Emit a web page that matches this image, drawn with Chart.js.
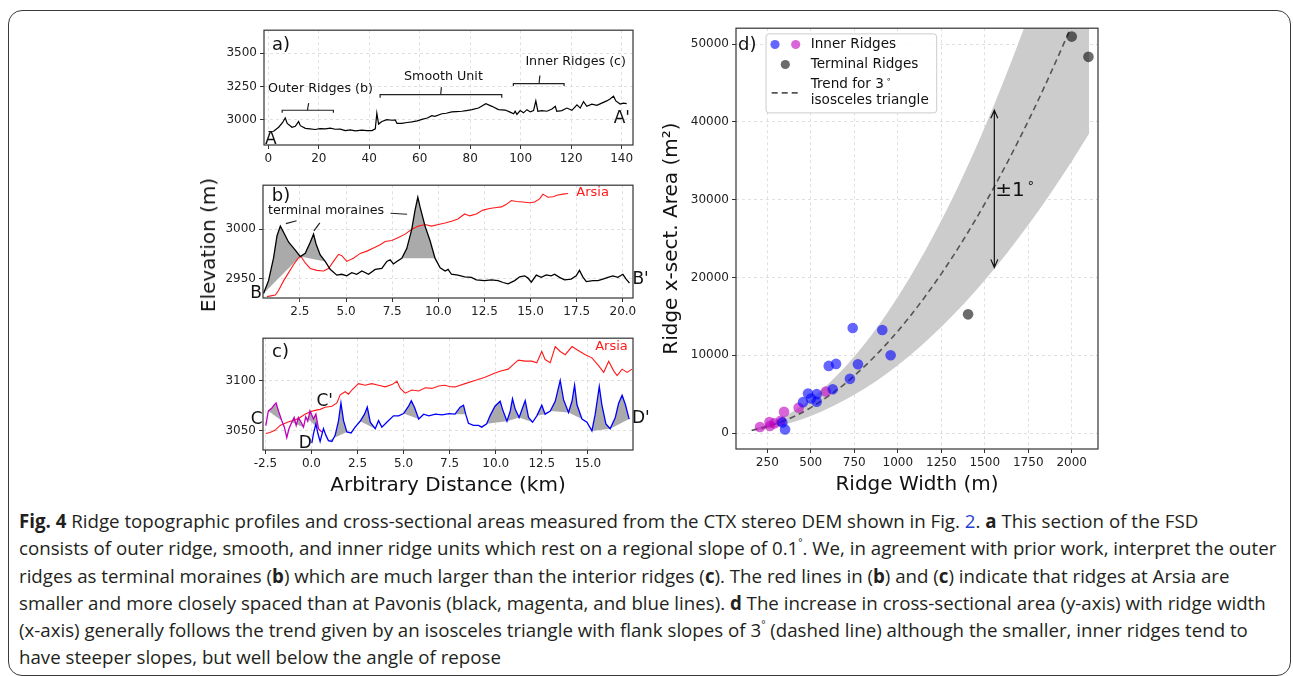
<!DOCTYPE html>
<html lang="en">
<head>
<meta charset="UTF-8">
<script src="https://cdn.jsdelivr.net/npm/chart.js"></script>
<title>Ridge profiles and cross-sectional areas</title>
<style>
  body { margin: 0; background: #fff; width: 1293px; height: 676px; overflow: hidden; position: relative; }
  .frame { position: absolute; left: 8px; top: 10px; width: 1283px; height: 666px; box-sizing: border-box;
           border: 1.5px solid #3a3a3a; border-radius: 14px; }
  canvas { position: absolute; }
  .ytitle { position: absolute; left: 208px; top: 245px; transform: translate(-50%, -50%) rotate(-90deg);
            font: 20px 'DejaVu Sans', sans-serif; color: #111; white-space: nowrap; }
  .caption { position: absolute; left: 19px; top: 507px; font-family: 'Open Sans', sans-serif; font-size: 18.7px;
             line-height: 27.3px; color: #231f20; white-space: nowrap; }
  .caption b { font-weight: 700; }
  .caption a { color: #1f3fd0; text-decoration: none; }
  .caption sup { font-size: 10px; vertical-align: 9px; line-height: 0; }
</style>
</head>
<body>
<div class="frame"></div>
<canvas id="chartA" width="441" height="150" style="left:214px;top:20px"></canvas>
<canvas id="chartB" width="442" height="150" style="left:213px;top:175px"></canvas>
<canvas id="chartC" width="442" height="172" style="left:213px;top:328px"></canvas>
<canvas id="chartD" width="460" height="482" style="left:650px;top:18px"></canvas>
<div class="ytitle">Elevation (m)</div>
<div class="caption">
  <div><b>Fig. 4</b> Ridge topographic profiles and cross-sectional areas measured from the CTX stereo DEM shown in Fig. <a>2</a>. <b>a</b> This section of the FSD</div>
  <div>consists of outer ridge, smooth, and inner ridge units which rest on a regional slope of 0.1<sup>°</sup>. We, in agreement with prior work, interpret the outer</div>
  <div>ridges as terminal moraines (<b>b</b>) which are much larger than the interior ridges (<b>c</b>). The red lines in (<b>b</b>) and (<b>c</b>) indicate that ridges at Arsia are</div>
  <div>smaller and more closely spaced than at Pavonis (black, magenta, and blue lines). <b>d</b> The increase in cross-sectional area (y-axis) with ridge width</div>
  <div>(x-axis) generally follows the trend given by an isosceles triangle with flank slopes of 3<sup>°</sup> (dashed line) although the smaller, inner ridges tend to</div>
  <div>have steeper slopes, but well below the angle of repose</div>
</div>
<script>
// ---- a) full profile A-A'
const aDist = [0.1, 2.1, 4.1, 5.7, 6.7, 7.5, 9.4, 10.7, 12.0, 12.7, 14.7, 16.5, 18.6, 20.5, 22.6,
  24.5, 26.6, 28.5, 30.5, 32.5, 34.5, 37.1, 39.0, 41.1, 42.4, 43.0, 43.7, 45.0, 47.0, 49.0,
  50.3, 51.0, 52.9, 55.0, 56.9, 59.0, 60.9, 63.0, 64.8, 66.0, 68.8, 70.5, 72.7, 74.5, 76.7,
  78.5, 80.7, 83.3, 86.2, 88.6, 91.2, 93.9, 95.8, 97.2, 97.8, 98.5, 99.8, 101.1, 102.5, 103.8,
  105.1, 106.0, 106.8, 108.4, 110.4, 112.4, 113.7, 114.3, 116.3, 118.3, 120.3, 122.3, 123.6, 124.9, 126.2,
  128.2, 130.2, 132.1, 134.1, 135.4, 136.8, 137.7, 139.4, 140.7, 142.0];
const aElev = [2910, 2912, 2942, 2978, 3012, 2971, 2942, 2949, 2985, 2954, 2934, 2930, 2925, 2932, 2930,
  2936, 2927, 2928, 2917, 2922, 2915, 2920, 2916, 2917, 2930, 3048, 2966, 2985, 3000, 2995,
  2997, 2971, 2971, 2978, 2983, 2990, 3002, 3012, 3029, 3024, 3044, 3048, 3058, 3060, 3063,
  3068, 3075, 3087, 3120, 3100, 3075, 3072, 3056, 3044, 3063, 3039, 3068, 3051, 3075, 3058,
  3068, 3141, 3063, 3068, 3063, 3080, 3100, 3063, 3068, 3087, 3070, 3112, 3087, 3136, 3100,
  3117, 3107, 3124, 3141, 3155, 3177, 3141, 3117, 3124, 3121];
const aTicksX = [0, 20, 40, 60, 80, 100, 120, 140];
const aTicksY = [3000, 3250, 3500];

// ---- b) outer ridges (Pavonis, black) and Arsia (red)
const bDist = [0.53, 0.80, 1.07, 1.26, 1.44, 1.62, 1.89, 2.25, 2.52, 2.79, 3.06, 3.24, 3.37, 3.60, 3.87,
  4.14, 4.50, 4.77, 5.04, 5.31, 5.58, 5.86, 6.22, 6.58, 6.94, 7.21, 7.39, 7.57, 7.75, 8.02,
  8.29, 8.56, 8.74, 8.89, 9.01, 9.28, 9.55, 9.82, 10.10, 10.37, 10.53, 10.71, 11.06, 11.43, 11.79,
  12.06, 12.51, 12.87, 13.24, 13.51, 13.78, 14.14, 14.41, 14.68, 14.86, 15.04, 15.31, 15.58, 15.85, 16.12,
  16.30, 16.57, 16.84, 17.20, 17.47, 17.65, 17.83, 18.02, 18.38, 18.65, 18.92, 19.19, 19.46, 19.73, 20.00,
  20.18, 20.36];
const bElev = [2934.6, 2947.7, 2970.6, 2993.5, 3003.3, 2996.7, 2986.9, 2978.8, 2972.2, 2975.5, 2986.9, 2995.1, 2985.3, 2973.9, 2967.3,
  2959.2, 2953.3, 2954.2, 2952.6, 2955.9, 2954.2, 2957.5, 2954.2, 2959.2, 2960.1, 2967.3, 2969.0, 2964.7, 2967.3, 2970.6,
  2980.4, 3000.0, 3019.6, 3032.7, 3022.9, 3003.3, 2988.6, 2970.6, 2960.8, 2957.5, 2959.2, 2954.2, 2953.3, 2951.6, 2951.0,
  2948.4, 2947.7, 2948.4, 2947.7, 2945.8, 2944.4, 2947.7, 2951.6, 2952.6, 2950.3, 2946.1, 2953.3, 2951.0, 2953.6, 2952.6,
  2954.2, 2951.0, 2948.4, 2949.3, 2952.6, 2958.2, 2951.6, 2946.7, 2947.7, 2947.7, 2949.3, 2951.0, 2952.6, 2951.0, 2954.2,
  2949.3, 2945.1];
const bArsiaDist = [0.71, 1.17, 1.35, 1.62, 1.89, 2.16, 2.43, 2.57, 2.79, 3.06, 3.42, 3.78, 4.05, 4.32, 4.59,
  4.77, 5.04, 5.40, 5.77, 6.13, 6.49, 6.85, 7.12, 7.48, 7.84, 8.20, 8.56, 8.92, 9.28, 9.64,
  10.01, 10.37, 10.71, 11.06, 11.43, 11.70, 12.06, 12.42, 12.78, 13.15, 13.42, 13.69, 13.96, 14.23, 14.59,
  14.95, 15.22, 15.49, 15.67, 15.94, 16.21, 16.48, 16.76, 17.03];
const bArsiaElev = [2931.4, 2933.0, 2937.9, 2947.7, 2955.9, 2964.1, 2971.2, 2972.2, 2965.7, 2960.1, 2958.2, 2957.5, 2960.1, 2967.3, 2974.5,
  2973.2, 2967.3, 2970.6, 2975.5, 2977.8, 2981.0, 2984.3, 2987.6, 2988.6, 2991.8, 2995.1, 3000.0, 3003.3, 3004.9, 3003.3,
  3004.9, 3006.5, 3008.2, 3010.5, 3015.7, 3013.7, 3015.7, 3019.6, 3021.2, 3022.2, 3022.9, 3025.5, 3029.4, 3028.4, 3027.8,
  3027.1, 3027.8, 3031.0, 3035.9, 3032.7, 3033.3, 3035.0, 3035.9, 3036.6];
const bMoraines = [[0.5, 2.55], [2.5, 3.9], [8.0, 9.85]];
const bTicksX = [2.5, 5, 7.5, 10, 12.5, 15, 17.5, 20];
const bTicksY = [2950, 3000];

// ---- c) inner ridges: C-C' (magenta), D-D' (blue), Arsia (red)
const cMagDist = [-2.48, -2.34, -2.16, -2.01, -1.92, -1.80, -1.61, -1.47, -1.34, -1.22, -1.07, -0.94, -0.83, -0.71, -0.56,
  -0.43, -0.31, -0.20, -0.08, 0.11, 0.24, 0.38, 0.56];
const cMagElev = [3055.1, 3069.7, 3072.3, 3076.1, 3077.7, 3070.3, 3060.0, 3053.5, 3043.0, 3051.9, 3058.4, 3063.2, 3055.2, 3063.2, 3058.4,
  3053.5, 3063.9, 3059.4, 3069.7, 3061.6, 3066.5, 3051.9, 3048.7];
const cBlueDist = [0.02, 0.11, 0.24, 0.35, 0.47, 0.65, 0.78, 0.92, 1.11, 1.29, 1.47, 1.60, 1.74, 1.92, 2.15,
  2.37, 2.64, 2.88, 3.03, 3.19, 3.46, 3.64, 3.82, 4.09, 4.45, 4.73, 5.00, 5.27, 5.42, 5.60,
  5.82, 6.09, 6.37, 6.73, 7.09, 7.46, 7.79, 8.07, 8.25, 8.37, 8.52, 8.79, 9.06, 9.24, 9.51,
  9.69, 9.96, 10.24, 10.37, 10.61, 10.79, 10.91, 11.06, 11.27, 11.46, 11.60, 11.78, 12.00, 12.23, 12.50,
  12.68, 12.96, 13.23, 13.50, 13.68, 13.95, 14.14, 14.28, 14.41, 14.68, 14.95, 15.22, 15.40, 15.62, 15.76,
  15.98, 16.21, 16.49, 16.67, 16.86, 17.04, 17.24];
const cBlueElev = [3037.4, 3047.1, 3056.8, 3047.1, 3039.1, 3052.0, 3045.5, 3040.0, 3039.1, 3045.5, 3060.0, 3077.7, 3060.0, 3048.7, 3047.7,
  3053.5, 3059.4, 3066.5, 3073.5, 3058.4, 3051.9, 3060.0, 3053.5, 3058.4, 3064.8, 3064.8, 3067.1, 3074.5, 3080.0, 3072.9,
  3061.6, 3066.5, 3064.8, 3066.5, 3065.8, 3067.1, 3066.5, 3073.5, 3075.5, 3066.5, 3057.4, 3055.2, 3055.2, 3053.5, 3056.8,
  3064.8, 3074.5, 3079.4, 3071.3, 3059.4, 3069.7, 3081.9, 3071.3, 3063.2, 3072.9, 3080.0, 3063.2, 3058.4, 3064.8, 3075.5,
  3066.5, 3069.7, 3079.4, 3100.3, 3081.0, 3068.1, 3079.4, 3095.5, 3075.9, 3061.6, 3058.4, 3049.7, 3066.5, 3094.2, 3075.9,
  3056.8, 3051.9, 3063.2, 3077.4, 3085.5, 3075.9, 3061.6];
const cArsiaDist = [-2.48, -2.25, -1.98, -1.70, -1.43, -1.16, -0.89, -0.62, -0.35, -0.07, 0.20, 0.47, 0.74, 1.11, 1.38,
  1.56, 1.83, 2.01, 2.19, 2.55, 2.91, 3.27, 3.64, 4.00, 4.37, 4.64, 4.82, 5.09, 5.45, 5.82,
  6.18, 6.54, 6.90, 7.24, 7.54, 7.79, 8.34, 8.87, 9.42, 9.96, 10.32, 10.68, 10.96, 11.23, 11.59,
  11.96, 12.23, 12.50, 12.68, 12.96, 13.23, 13.50, 13.77, 14.14, 14.41, 14.86, 15.22, 15.59, 15.86, 16.13,
  16.40, 16.59, 16.86, 17.13, 17.40];
const cArsiaElev = [3047.1, 3048.1, 3050.3, 3055.2, 3057.4, 3059.4, 3060.6, 3063.2, 3066.4, 3069.0, 3070.3, 3071.3, 3073.5, 3074.5, 3077.7,
  3085.8, 3089.0, 3086.5, 3090.7, 3097.1, 3095.5, 3097.1, 3095.5, 3093.9, 3096.1, 3099.4, 3092.3, 3087.5, 3090.7, 3089.7,
  3092.9, 3092.3, 3094.8, 3095.5, 3093.9, 3093.8, 3097.1, 3100.3, 3103.5, 3107.7, 3109.9, 3111.6, 3116.4, 3120.6, 3119.6,
  3119.6, 3118.0, 3129.3, 3121.2, 3118.0, 3134.2, 3129.3, 3126.1, 3134.2, 3131.0, 3126.1, 3122.9, 3114.8, 3108.4, 3119.6,
  3109.9, 3105.1, 3111.6, 3108.4, 3111.6];
const cMagRidges = [[-2.4, -1.6], [-1.1, -0.4], [-0.35, 0.4]];
const cBlueRidges = [[0.9, 1.95], [2.6, 3.5], [4.95, 5.85], [7.75, 8.4], [9.5, 10.65], [10.6, 11.3], [11.25, 12.05],
  [12.2, 12.7], [12.95, 14.0], [13.9, 14.7], [15.2, 16.25], [16.2, 17.3]];
const cTicksX = [-2.5, 0, 2.5, 5, 7.5, 10, 12.5, 15];
const cTicksY = [3050, 3100];

// ---- d) cross-sectional area vs ridge width
const innerBlueWidth = [741, 911, 959, 603, 645, 771, 725, 626, 484, 534, 501, 534, 455, 336, 352];
const innerBlueArea = [13500, 13250, 10000, 8630, 8890, 8850, 6970, 5640, 5085, 5000, 4440, 4020, 3970, 1370, 470];
const innerMagWidth = [587, 430, 346, 327, 262, 265, 290, 208];
const innerMagArea = [5340, 3250, 2735, 1580, 1410, 900, 1240, 770];
const terminalWidth = [1404, 2000, 2096];
const terminalArea = [15260, 50970, 48370];
const trendWidth = [160, 300, 500, 750, 1000, 1250, 1500, 1750, 2000, 2100];
const trendArea = [335, 1180, 3275, 7370, 13100, 20470, 29480, 40120, 52400, 57770];
const bandUpper = [447, 1573, 4370, 9833, 17480, 27313, 39330, 53533, 69920, 77087];
const bandLower = [223, 786, 2183, 4911, 8730, 13641, 19643, 26736, 34920, 38499];
const dTicksX = [250, 500, 750, 1000, 1250, 1500, 1750, 2000];
const dTicksY = [0, 10000, 20000, 30000, 40000, 50000];

Chart.defaults.font.family = "'DejaVu Sans', sans-serif";
Chart.defaults.font.size = 12;
Chart.defaults.color = '#222';
Chart.defaults.animation = false;
Chart.defaults.events = [];
Chart.defaults.plugins.legend.display = false;
Chart.defaults.plugins.tooltip.enabled = false;
Chart.defaults.elements.point.radius = 0;
Chart.defaults.elements.line.tension = 0;

const FONT = "'DejaVu Sans', sans-serif";
const pts = (xs, ys) => xs.map((x, i) => ({x: x, y: ys[i]}));
const part = (xs, ys, r) => pts(xs, ys).filter(p => p.x >= r[0] && p.x <= r[1]);

// matplotlib-like box around each plot
Chart.register({
  id: 'frame',
  afterDatasetsDraw(chart) {
    const a = chart.chartArea, ctx = chart.ctx;
    ctx.save();
    ctx.strokeStyle = '#333';
    ctx.lineWidth = 1.2;
    ctx.strokeRect(a.left, a.top, a.right - a.left, a.bottom - a.top);
    ctx.restore();
  }
});

function axis(min, max, ticks, fmt, fit, title) {
  return {
    type: 'linear', min: min, max: max,
    afterBuildTicks: s => { s.ticks = ticks.map(v => ({ value: v })); },
    ticks: { padding: 3, color: '#222', maxRotation: 0, autoSkip: false, callback: fmt },
    grid: { color: '#d9d9d9', lineWidth: 0.8, tickColor: '#333', tickLength: 4, tickWidth: 1 },
    border: { display: false, dash: [3, 3] },
    title: title || { display: false },
    afterFit: fit
  };
}
const int = v => String(v);
const one = v => v.toFixed(1);

function P(chart, x, y) {
  return [chart.scales.x.getPixelForValue(x), chart.scales.y.getPixelForValue(y)];
}
function label(chart, s, x, y, size, align, color) {
  const ctx = chart.ctx, p = P(chart, x, y);
  ctx.save();
  ctx.font = size + 'px ' + FONT;
  ctx.fillStyle = color || '#111';
  ctx.textAlign = align || 'left';
  ctx.textBaseline = 'middle';
  ctx.fillText(s, p[0], p[1]);
  ctx.restore();
}
function corner(chart, s, dx, dy) {
  const ctx = chart.ctx, a = chart.chartArea;
  ctx.save();
  ctx.font = '18px ' + FONT;
  ctx.fillStyle = '#111';
  ctx.textBaseline = 'middle';
  ctx.fillText(s, a.left + dx, a.top + dy);
  ctx.restore();
}
function path(chart, list, color, width) {
  const ctx = chart.ctx;
  ctx.save();
  ctx.strokeStyle = color || '#222';
  ctx.lineWidth = width || 1.2;
  ctx.beginPath();
  list.forEach((q, i) => {
    const p = P(chart, q[0], q[1]);
    if (i === 0) ctx.moveTo(p[0], p[1]); else ctx.lineTo(p[0], p[1]);
  });
  ctx.stroke();
  ctx.restore();
}
// text followed by a small raised degree ring, at canvas pixel position
function degText(ctx, s, x, y, size, supSize) {
  ctx.font = size + 'px ' + FONT;
  ctx.textAlign = 'left';
  ctx.textBaseline = 'middle';
  ctx.fillText(s, x, y);
  const w = ctx.measureText(s).width;
  ctx.font = supSize + 'px ' + FONT;
  ctx.fillText('∘', x + w + 2, y - size * 0.32);
}

function lineSet(xs, ys, color, width) {
  return { data: pts(xs, ys), borderColor: color, borderWidth: width || 1.3, fill: false, pointRadius: 0 };
}
function ridgeSet(xs, ys, r) {
  return { data: part(xs, ys, r), borderWidth: 0, borderColor: 'rgba(0,0,0,0)', backgroundColor: '#aaaaaa', fill: 'shape', pointRadius: 0 };
}

// ---------- chart a
new Chart(document.getElementById('chartA'), {
  type: 'line',
  data: { datasets: [lineSet(aDist, aElev, '#000', 1.2)] },
  options: {
    responsive: false,
    layout: { padding: { top: 6, right: 22, left: 0, bottom: 0 }, autoPadding: false },
    scales: {
      x: axis(-1.7, 144.5, aTicksX, int, s => { s.height = 25; }),
      y: axis(2808, 3675, aTicksY, int, s => { s.width = 50; })
    }
  },
  plugins: [{
    id: 'notesA',
    afterDraw(c) {
      corner(c, 'a)', 8, 15);
      path(c, [[5.5, 3051], [5.5, 3070.6], [25.8, 3070.6], [25.8, 3051]]);
      path(c, [[15.5, 3070.6], [16.0, 3124]]);
      label(c, 'Outer Ridges (b)', 20.7, 3231, 12.7, 'center');
      path(c, [[44.3, 3165], [44.3, 3189], [92.5, 3189], [92.5, 3165]]);
      path(c, [[68.3, 3189], [68.6, 3245]]);
      label(c, 'Smooth Unit', 69.4, 3326, 12.7, 'center');
      path(c, [[97.1, 3253], [97.1, 3272], [117.2, 3272], [117.2, 3253]]);
      path(c, [[107.3, 3272], [107.6, 3333]]);
      label(c, 'Inner Ridges (c)', 121.8, 3435, 12.7, 'center');
      label(c, 'A', -1.3, 2848, 17);
      label(c, "A'", 143.3, 3009, 17, 'right');
    }
  }]
});

// ---------- chart b
new Chart(document.getElementById('chartB'), {
  type: 'line',
  data: {
    datasets: [
      lineSet(bDist, bElev, '#000', 1.3),
      lineSet(bArsiaDist, bArsiaElev, '#ff1a1a', 1.1)
    ].concat(bMoraines.map(r => ridgeSet(bDist, bElev, r)))
  },
  options: {
    responsive: false,
    layout: { padding: { top: 6, right: 22, left: 0, bottom: 0 }, autoPadding: false },
    scales: {
      x: axis(0.5, 20.55, bTicksX, one, s => { s.height = 27; }),
      y: axis(2930, 3045, bTicksY, int, s => { s.width = 50; })
    }
  },
  plugins: [{
    id: 'notesB',
    afterDraw(c) {
      corner(c, 'b)', 8.7, 11.5);
      label(c, 'terminal moraines', 0.77, 3018.8, 12.7);
      path(c, [[1.74, 3005.9], [2.32, 3008.8]]);
      path(c, [[3.26, 2998.4], [3.58, 3006.6]]);
      path(c, [[7.41, 3016.4], [8.31, 3015.4]]);
      label(c, 'Arsia', 17.48, 3037, 13, 'left', '#ff1a1a');
      label(c, 'B', 0.44, 2934.5, 17, 'right');
      label(c, "B'", 20.52, 2949.2, 17);
    }
  }]
});

// ---------- chart c
new Chart(document.getElementById('chartC'), {
  type: 'line',
  data: {
    datasets: [
      lineSet(cBlueDist, cBlueElev, '#0000ff', 1.3),
      lineSet(cMagDist, cMagElev, '#bf00bf', 1.3),
      lineSet(cArsiaDist, cArsiaElev, '#ff1a1a', 1.1)
    ].concat(cBlueRidges.map(r => ridgeSet(cBlueDist, cBlueElev, r)))
     .concat(cMagRidges.map(r => ridgeSet(cMagDist, cMagElev, r)))
  },
  options: {
    responsive: false,
    layout: { padding: { top: 6, right: 22, left: 0, bottom: 0 }, autoPadding: false },
    scales: {
      x: axis(-2.63, 17.45, cTicksX, one, s => { s.height = 50; },
        { display: true, text: 'Arbitrary Distance (km)', color: '#111', font: { size: 20 }, padding: { top: 0, bottom: 2 } }),
      y: axis(3030.6, 3142.6, cTicksY, int, s => { s.width = 50; })
    }
  },
  plugins: [{
    id: 'notesC',
    afterDraw(c) {
      corner(c, 'c)', 9, 14.5);
      label(c, 'Arsia', 15.4, 3134.2, 13, 'left', '#ff1a1a');
      label(c, 'C', -2.65, 3061.1, 17, 'right');
      label(c, "C'", 0.27, 3079, 17);
      label(c, 'D', -0.69, 3036.9, 17);
      label(c, "D'", 17.39, 3062, 17);
    }
  }]
});

// ---------- chart d
new Chart(document.getElementById('chartD'), {
  type: 'scatter',
  data: {
    datasets: [
      { label: 'Inner Ridges', data: pts(innerBlueWidth, innerBlueArea), backgroundColor: 'rgba(0,0,255,0.6)', borderWidth: 0, pointRadius: 5.3 },
      { label: 'Inner Ridges', data: pts(innerMagWidth, innerMagArea), backgroundColor: 'rgba(191,0,191,0.6)', borderWidth: 0, pointRadius: 5.3 },
      { label: 'Terminal Ridges', data: pts(terminalWidth, terminalArea), backgroundColor: 'rgba(0,0,0,0.58)', borderWidth: 0, pointRadius: 5.3 },
      { type: 'line', label: 'Trend', data: pts(trendWidth, trendArea), borderColor: '#555', borderWidth: 1.6, borderDash: [6, 4],
        cubicInterpolationMode: 'monotone', pointRadius: 0, fill: false },
      { type: 'line', data: pts(trendWidth, bandUpper), borderWidth: 0, borderColor: 'rgba(0,0,0,0)',
        cubicInterpolationMode: 'monotone', pointRadius: 0, fill: false },
      { type: 'line', data: pts(trendWidth, bandLower), borderWidth: 0, borderColor: 'rgba(0,0,0,0)', backgroundColor: '#cccccc',
        cubicInterpolationMode: 'monotone', pointRadius: 0, fill: '-1' }
    ]
  },
  options: {
    responsive: false,
    layout: { padding: { top: 9, right: 12, left: 0, bottom: 0 }, autoPadding: false },
    scales: {
      x: axis(70, 2151, dTicksX, int, s => { s.height = 51; },
        { display: true, text: 'Ridge Width (m)', color: '#111', font: { size: 20 }, padding: { top: 0, bottom: 3 } }),
      y: axis(-2051, 52051, dTicksY, int, s => { s.width = 86; },
        { display: true, text: 'Ridge x-sect. Area (m²)', color: '#111', font: { size: 20 }, padding: { top: 10, bottom: 0 } })
    }
  },
  plugins: [{
    id: 'notesD',
    afterDraw(c) {
      const ctx = c.ctx, a = c.chartArea;
      corner(c, 'd)', 2, 17);
      // +-1 degree arrow
      const top = P(c, 1555, 41500), bot = P(c, 1555, 21300);
      ctx.save();
      ctx.strokeStyle = '#111';
      ctx.lineWidth = 1.2;
      ctx.beginPath();
      ctx.moveTo(top[0], top[1]); ctx.lineTo(bot[0], bot[1]);
      ctx.moveTo(top[0] - 3.5, top[1] + 8); ctx.lineTo(top[0], top[1]); ctx.lineTo(top[0] + 3.5, top[1] + 8);
      ctx.moveTo(bot[0] - 3.5, bot[1] - 8); ctx.lineTo(bot[0], bot[1]); ctx.lineTo(bot[0] + 3.5, bot[1] - 8);
      ctx.stroke();
      ctx.fillStyle = '#111';
      const t = P(c, 1560, 31200);
      degText(ctx, '±1', t[0], t[1], 20, 13);
      ctx.restore();
      // legend
      const L = a.left, T = a.top;
      ctx.save();
      ctx.fillStyle = 'rgba(255,255,255,0.85)';
      ctx.strokeStyle = '#cccccc';
      ctx.lineWidth = 1;
      ctx.beginPath();
      ctx.roundRect(L + 30, T + 5.7, 170.7, 79, 3);
      ctx.fill();
      ctx.stroke();
      const dot = (x, y, col) => { ctx.fillStyle = col; ctx.beginPath(); ctx.arc(L + x, T + y, 4.6, 0, Math.PI * 2); ctx.fill(); };
      dot(39, 16.3, 'rgba(0,0,255,0.6)');
      dot(59.7, 16.3, 'rgba(191,0,191,0.6)');
      dot(49.3, 36.3, 'rgba(0,0,0,0.58)');
      ctx.strokeStyle = '#555';
      ctx.lineWidth = 1.6;
      ctx.setLineDash([6, 4]);
      ctx.beginPath();
      ctx.moveTo(L + 35.7, T + 64.7); ctx.lineTo(L + 62.3, T + 64.7);
      ctx.stroke();
      ctx.setLineDash([]);
      ctx.fillStyle = '#111';
      ctx.font = '13.6px ' + FONT;
      ctx.textBaseline = 'middle';
      ctx.fillText('Inner Ridges', L + 74.7, T + 16.3);
      ctx.fillText('Terminal Ridges', L + 74.7, T + 36.3);
      ctx.fillText('isosceles triangle', L + 74.7, T + 72);
      degText(ctx, 'Trend for 3', L + 74.7, T + 56.3, 13.6, 9);
      ctx.restore();
    }
  }]
});
</script>
</body>
</html>
